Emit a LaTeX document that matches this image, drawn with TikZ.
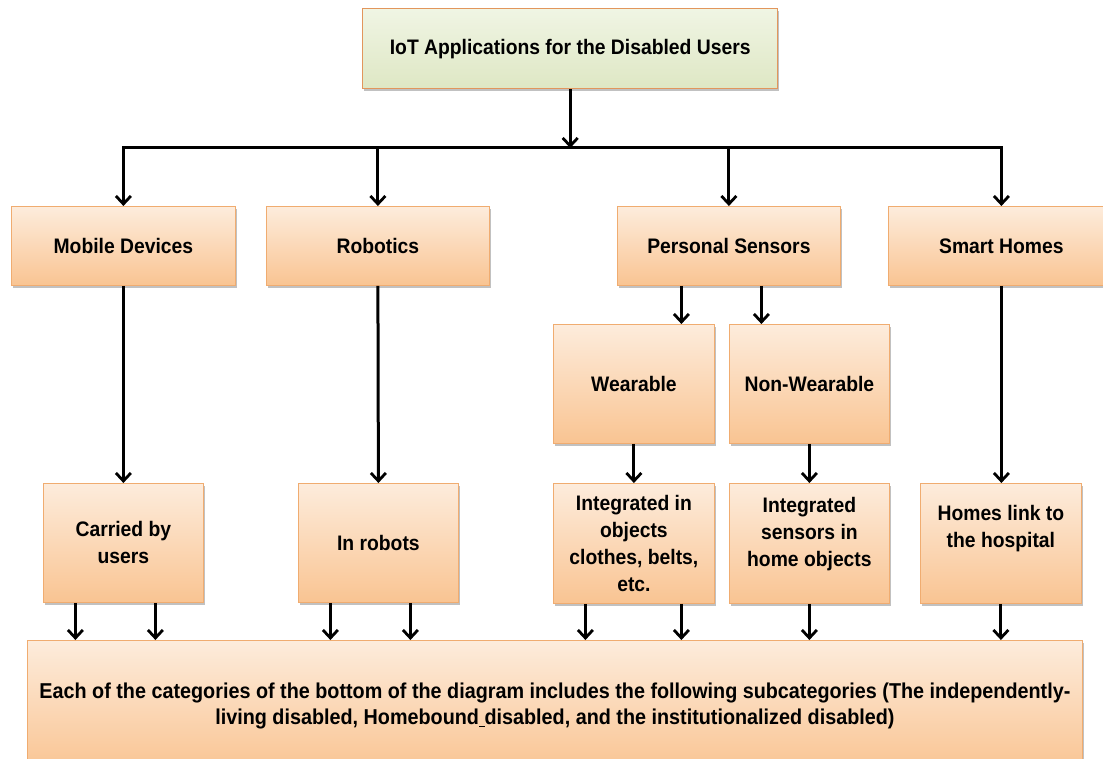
\documentclass[tikz,border=0pt]{standalone}
\usepackage{fontspec}
\setmainfont{Liberation Sans}[FakeStretch=0.92]
\usetikzlibrary{arrows.meta,shadows}

\definecolor{peachtop}{RGB}{253,236,220}
\definecolor{peachbot}{RGB}{249,196,146}
\definecolor{peachline}{RGB}{240,172,112}
\definecolor{greentop}{RGB}{240,245,228}
\definecolor{greenbot}{RGB}{222,231,196}
\definecolor{titleline}{RGB}{226,150,92}

\tikzset{
  box/.style={draw=peachline, line width=0.8pt, top color=peachtop, bottom color=peachbot,
    drop shadow={shadow xshift=1.5pt, shadow yshift=-2.5pt, opacity=0.35, fill=black!70},
    anchor=north west, inner sep=0pt, align=center,
    font=\bfseries\fontsize{21}{27}\selectfont},
  titlebox/.style={box, draw=titleline, line width=1.4pt, top color=greentop, bottom color=greenbot},
  conn/.style={line width=3pt, black},
  arr/.style={conn, -{Straight Barb[length=8pt,width=15pt,line width=2.8pt]}},
}

\begin{document}
\begin{tikzpicture}[x=1pt,y=-1pt]
\useasboundingbox (0,0) rectangle (1103,759);

% root
\node[titlebox, minimum width=415pt, minimum height=80pt] (top) at (362,8)
  {IoT Applications for the Disabled Users};

% first level
\node[box, minimum width=224pt, minimum height=79pt] (mob) at (11,206) {Mobile Devices};
\node[box, minimum width=223pt, minimum height=79pt] (rob) at (266,206) {Robotics};
\node[box, minimum width=223pt, minimum height=79pt] (ps)  at (617,206) {Personal Sensors};
\node[box, minimum width=226pt, minimum height=79pt] (sh)  at (888,206) {Smart Homes};

% sensor kinds
\node[box, minimum width=161pt, minimum height=119pt] (wear) at (553,324) {Wearable};
\node[box, minimum width=160pt, minimum height=119pt] (nw)   at (729,324) {Non-Wearable};

% third level
\node[box, minimum width=160pt, minimum height=119pt] (car) at (43,483) {Carried by\\users};
\node[box, minimum width=160pt, minimum height=119pt] (inr) at (298,483) {In robots};
\node[box, minimum width=161pt, minimum height=120pt] (intin) at (553,483)
  {\fontsize{21}{23.7}\selectfont Integrated in\\objects\\clothes, belts,\\etc.};
\node[box, minimum width=160pt, minimum height=120pt,
  label={[yshift=9pt, align=center, font=\bfseries\fontsize{21}{27}\selectfont]center:Integrated\\sensors in\\home objects}]
  (ints) at (729,483) {};
\node[box, minimum width=161pt, minimum height=120pt,
  label={[yshift=15pt, align=center, font=\bfseries\fontsize{21}{27}\selectfont]center:Homes link to\\the hospital}]
  (homes) at (920,483) {};

% common bottom box
\node[box, minimum width=1055pt, minimum height=131pt, font=\bfseries\fontsize{21.5}{26}\selectfont] (bot) at (27,640)
  {Each of the categories of the bottom of the diagram includes the following subcategories (The independently-\\
   living disabled, Homebound\underline{\ }disabled, and the institutionalized disabled)};

% bus from the root
\coordinate (bus)  at (top.south |- 0,148);
\coordinate (busL) at (mob.north |- bus);
\coordinate (busR) at (sh.north |- bus);
\draw[arr] (top.south) -- (bus);
\draw[conn, line cap=rect] (busL) -- (busR);
\draw[arr] (busL) -- (mob.north);
\draw[arr] (rob.north |- bus) -- (rob.north);
\draw[arr] (ps.north |- bus) -- (ps.north);
\draw[arr] (busR) -- (sh.north);

% down the columns
\draw[arr] (mob.south) -- (car.north);
\draw[arr] (rob.south) -- (inr.north);
\draw[arr] ([xshift=-47.5pt]ps.south) -- ([xshift=47.5pt]wear.north);
\draw[arr] ([xshift=32.5pt]ps.south) -- ([xshift=32.5pt]ps.south |- nw.north);
\draw[arr] (wear.south) -- (intin.north);
\draw[arr] (nw.south) -- (ints.north);
\draw[arr] (sh.south) -- (sh.south |- homes.north);

% into the bottom box
\foreach \src/\dx in {car/-48, car/32, inr/-48, inr/32, intin/-48.5, intin/47.5, ints/0, homes/0}
  \draw[arr] ([xshift=\dx pt]\src.south) -- ([xshift=\dx pt]\src.south |- bot.north);
\end{tikzpicture}
\end{document}
